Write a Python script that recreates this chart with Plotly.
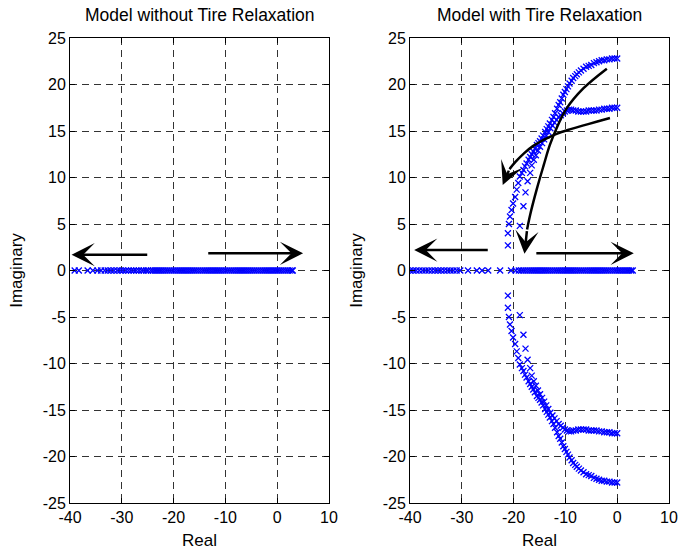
import plotly.graph_objects as go

# ---------------- data ----------------
# Root locus without tire relaxation: all poles stay on the real axis
left_real = [-39.1, -38.3, -36.6, -35.6, -34.7, -34.0, -33.3, -32.7, -32.1, -31.5,
             -30.9, -30.3, -29.8, -29.2, -28.7, -28.2, -27.7, -27.2, -26.7, -26.2,
             -25.8, -25.3, -24.9, -24.4, -24.0, -23.6, -23.2, -22.8, -22.4, -22.0,
             -21.6, -21.2, -20.8, -20.4, -20.0, -19.6, -19.2, -18.8, -18.4, -18.0,
             -17.6, -17.2, -16.8, -16.4, -16.0, -15.6, -15.2, -14.8, -14.4, -14.0,
             -13.6, -13.2, -12.8, -12.4, -12.0, -11.6, -11.2, -10.8, -10.4, -10.0,
             -9.6, -9.2, -8.8, -8.4, -8.0, -7.6, -7.2, -6.8, -6.4, -6.0,
             -5.6, -5.2, -4.8, -4.4, -4.0, -3.6, -3.2, -2.8, -2.4, -2.0,
             -1.6, -1.2, -0.8, -0.4, 0.0, 0.4, 0.8, 1.2, 1.6, 2.0, 2.4, 2.8, 3.0]
left_imag = [0.0] * len(left_real)

# Root locus with tire relaxation: real-axis poles
right_real = [-40.0, -39.4, -38.8, -38.2, -37.6, -37.0, -36.4, -35.8, -35.2, -34.6,
              -34.0, -33.4, -32.8, -32.2, -31.6, -31.0, -30.3, -28.8, -27.1, -26.1,
              -24.9, -22.6, -20.5, -19.6, -19.0, -18.5, -18.1, -17.7, -17.3, -16.9,
              -16.5, -16.1, -15.7, -15.3, -14.9, -14.5, -14.1, -13.7, -13.3, -12.9,
              -12.5, -12.1, -11.7, -11.3, -10.9, -10.5, -10.1, -9.7, -9.3, -8.9,
              -8.5, -8.1, -7.7, -7.3, -6.9, -6.5, -6.1, -5.7, -5.3, -4.9,
              -4.5, -4.1, -3.7, -3.3, -2.9, -2.5, -2.1, -1.7, -1.3, -0.9,
              -0.5, -0.1, 0.3, 0.7, 1.1, 1.5, 1.9, 2.3, 2.7, 3.0]
right_imag = [0.0] * len(right_real)

# Complex branch ending near +/-22.8j (upper half)
outer_real = [-21.1, -21.1, -20.9, -20.7, -20.4, -20.1, -19.7, -19.4, -19.1, -18.8,
              -18.4, -18.1, -17.8, -17.5, -17.1, -16.8, -16.5, -16.2, -15.9, -15.5,
              -15.2, -14.9, -14.6, -14.3, -13.9, -13.6, -13.3, -13.0, -12.6, -12.3,
              -12.0, -11.6, -11.3, -11.0, -10.7, -10.4, -10.1, -9.8, -9.5, -9.2,
              -8.8, -8.5, -8.1, -7.8, -7.4, -7.0, -6.5, -6.0, -5.5, -5.0,
              -4.5, -4.0, -3.5, -3.0, -2.5, -2.0, -1.5, -1.0, -0.5, 0.0]
outer_imag = [2.7, 4.0, 5.0, 5.8, 6.5, 7.2, 7.9, 8.7, 9.4, 10.1,
              10.5, 10.8, 11.2, 11.5, 11.9, 12.2, 12.5, 12.8, 13.1, 13.5,
              13.7, 13.9, 14.2, 14.5, 14.9, 15.2, 15.5, 15.8, 16.2, 16.5,
              16.9, 17.4, 17.8, 18.1, 18.5, 18.9, 19.2, 19.5, 19.8, 20.1,
              20.4, 20.7, 20.9, 21.1, 21.3, 21.5, 21.7, 21.9, 22.0, 22.1,
              22.3, 22.4, 22.5, 22.6, 22.6, 22.7, 22.7, 22.8, 22.8, 22.8]

# Complex branch ending near +/-17.4j (upper half)
inner_real = [-18.8, -18.1, -17.7, -17.3, -16.8, -16.5, -16.1, -15.7, -15.3, -14.9,
              -14.5, -14.1, -13.7, -13.3, -12.9, -12.5, -12.1, -11.7, -11.3, -10.9,
              -10.5, -10.1, -9.7, -9.3, -8.9, -8.5, -8.0, -7.5, -7.0, -6.5,
              -6.0, -5.5, -5.0, -4.5, -4.0, -3.5, -3.0, -2.5, -2.0, -1.5,
              -1.0, -0.5, 0.0]
inner_imag = [4.8, 6.9, 8.4, 9.6, 10.5, 11.3, 11.9, 12.4, 12.9, 13.3,
              13.7, 14.1, 14.5, 14.9, 15.3, 15.6, 15.9, 16.2, 16.5, 16.7,
              16.9, 17.1, 17.2, 17.3, 17.3, 17.2, 17.2, 17.1, 17.1, 17.1,
              17.1, 17.2, 17.2, 17.2, 17.2, 17.3, 17.3, 17.4, 17.4, 17.4,
              17.5, 17.5, 17.5]

x_ticks = [-40, -30, -20, -10, 0, 10]
x_tick_labels = ["-40", "-30", "-20", "-10", "0", "10"]
y_ticks = [-25, -20, -15, -10, -5, 0, 5, 10, 15, 20, 25]
y_tick_labels = ["-25", "-20", "-15", "-10", "-5", "0", "5", "10", "15", "20", "25"]

titles = ["Model without Tire Relaxation", "Model with Tire Relaxation"]

# ---------------- figure ----------------
BLUE = "#0000FF"
FONT = "Liberation Sans, Arial, Helvetica, sans-serif"


def pole_trace(xs, ys, xa, ya):
    return go.Scatter(
        x=xs, y=ys, mode="markers", xaxis=xa, yaxis=ya, showlegend=False,
        marker=dict(symbol="x-thin", size=6, color=BLUE,
                    line=dict(color=BLUE, width=1.3)),
        hoverinfo="skip",
    )


fig = go.Figure()

fig.add_trace(pole_trace(left_real, left_imag, "x", "y"))
fig.add_trace(pole_trace(right_real, right_imag, "x2", "y2"))
for re, im in ((outer_real, outer_imag), (inner_real, inner_imag)):
    fig.add_trace(pole_trace(re, im, "x2", "y2"))
    fig.add_trace(pole_trace(re, [-v for v in im], "x2", "y2"))

# curved direction arrows (shafts)
arrow_paths = [
    ([-2.0, -6.5, -9.8, -11.7, -13.0, -14.2, -15.5, -16.8, -17.4],
     [21.7, 19.6, 17.4, 15.3, 13.5, 11.3, 8.8, 6.0, 4.4]),
    ([-1.4, -4.0, -6.5, -9.0, -11.7, -14.0, -16.2, -18.0, -19.6, -20.8],
     [16.4, 16.0, 15.6, 15.2, 14.7, 14.1, 13.4, 12.6, 11.7, 10.9]),
]
arrow_tips = [(-17.9, 1.8), (-22.1, 9.2)]
for (px, py) in arrow_paths:
    fig.add_trace(go.Scatter(
        x=px, y=py, mode="lines", xaxis="x2", yaxis="y2", showlegend=False,
        line=dict(color="black", width=2.5, shape="spline", smoothing=1.0),
        hoverinfo="skip",
    ))

annotations = []


def arrow(xref, yref, tail, tip):
    annotations.append(dict(
        xref=xref, yref=yref, axref=xref, ayref=yref,
        x=tip[0], y=tip[1], ax=tail[0], ay=tail[1],
        text="", showarrow=True, arrowhead=3, arrowsize=1.55,
        arrowwidth=2.5, arrowcolor="black", standoff=0, startstandoff=0,
    ))


# straight arrows along the real axis
arrow("x", "y", (-24.8, 1.7), (-39.7, 1.7))
arrow("x", "y", (-13.6, 1.85), (5.0, 1.85))
arrow("x2", "y2", (-24.7, 2.2), (-39.2, 2.2))
arrow("x2", "y2", (-15.9, 1.85), (3.2, 1.85))
# heads of the curved arrows
for (px, py), tip in zip(arrow_paths, arrow_tips):
    arrow("x2", "y2", (px[-1], py[-1]), tip)

# subplot titles
for i, (t, xc) in enumerate(zip(titles, [0.2943, 0.7957])):
    annotations.append(dict(
        xref="paper", yref="paper", x=xc, y=1 - 15 / 552, text=t,
        showarrow=False, xanchor="center", yanchor="middle",
        font=dict(family=FONT, size=17.5, color="black"),
    ))

axis_common = dict(
    showline=True, linecolor="black", linewidth=1, mirror="ticks",
    ticks="inside", ticklen=5, tickcolor="black", tickwidth=1,
    showgrid=True, gridcolor="#333333", gridwidth=1, griddash="7px,5px",
    zeroline=False, tickfont=dict(family=FONT, size=16, color="black"),
    title_font=dict(family=FONT, size=17, color="black"),
    fixedrange=True, automargin=False,
)

xdom = [[70 / 678, 329 / 678], [410 / 678, 669 / 678]]
ydom = [1 - 503 / 552, 1 - 38 / 552]

layout = dict(
    width=678, height=552, margin=dict(l=0, r=0, t=0, b=0),
    paper_bgcolor="white", plot_bgcolor="white",
    font=dict(family=FONT, size=16, color="black"),
    annotations=annotations, showlegend=False,
)
for i, suffix in enumerate(["", "2"]):
    layout["xaxis" + suffix] = dict(
        axis_common, domain=xdom[i], range=[-40, 10],
        tickvals=x_ticks, ticktext=x_tick_labels,
        title=dict(text="Real", standoff=8),
        anchor="y" + suffix,
    )
    layout["yaxis" + suffix] = dict(
        axis_common, domain=ydom, range=[-25, 25],
        tickvals=y_ticks, ticktext=y_tick_labels,
        title=dict(text="Imaginary", standoff=15),
        anchor="x" + suffix,
    )

fig.update_layout(**layout)
fig.write_html("out.html")
